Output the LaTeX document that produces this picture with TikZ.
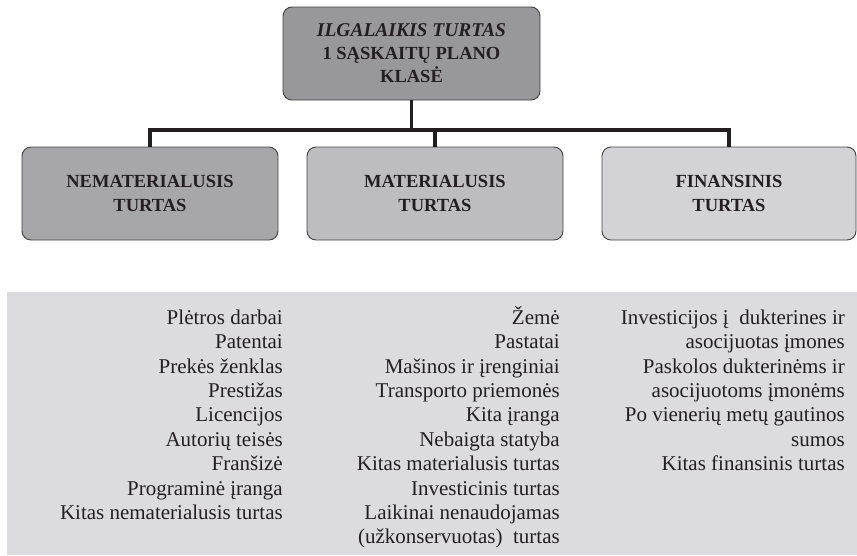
\documentclass[tikz,border=0pt]{standalone}
\usepackage{fontspec}
\setmainfont{Liberation Serif}
\definecolor{ink}{HTML}{231F20}
\definecolor{topfill}{HTML}{98989A}
\definecolor{leftfill}{HTML}{A7A7A9}
\definecolor{midfill}{HTML}{BDBDBF}
\definecolor{rightfill}{HTML}{D3D3D5}
\definecolor{panelfill}{HTML}{DCDCDE}
% fixed-height strut so every list starts at the same baseline
\newcommand{\liststrut}{\rule{0pt}{20pt}}
\begin{document}
\begin{tikzpicture}[x=1pt,y=1pt,
  catbox/.style={draw=ink!85, line width=0.9pt, rounded corners=9pt,
    minimum height=93pt, align=center, text=ink,
    font=\fontsize{18.5}{24}\selectfont\bfseries},
  conn/.style={draw=ink, line width=3.6pt},
  itemcol/.style={anchor=north east, align=right, inner sep=0pt, text=ink,
    font=\fontsize{21}{24.4}\selectfont}]
  \useasboundingbox (0,0) rectangle (857,-555);

  % grey panel behind the lists
  \fill[panelfill] (7,-292) rectangle (857,-555);

  % boxes
  \node[catbox, fill=topfill, minimum width=257pt] (top) at (411.5,-53.5)
    {{\fontsize{19.5}{23.5}\selectfont\itshape ILGALAIKIS TURTAS}\\[-1pt]1 SĄSKAITŲ PLANO\\[-1pt]KLASĖ};
  \node[catbox, fill=leftfill, minimum width=256pt] (nem) at (150,-193.5)
    {NEMATERIALUSIS\\TURTAS};
  \node[catbox, fill=midfill, minimum width=256pt] (mat) at (435,-193.5)
    {MATERIALUSIS\\TURTAS};
  \node[catbox, fill=rightfill, minimum width=254pt] (fin) at (729,-193.5)
    {FINANSINIS\\TURTAS};

  % connectors
  \coordinate (bus) at (0,-130);
  \draw[conn] (top.south) -- (top.south |- bus);
  \draw[conn] (nem.north) -- (nem.north |- bus) -- (fin.north |- bus) -- (fin.north);
  \draw[conn] (mat.north) -- (mat.north |- bus);

  % lists
  \node[itemcol] (nemlist) at (283,-304) {\liststrut Plėtros darbai\\Patentai\\Prekės ženklas\\Prestižas\\Licencijos\\Autorių teisės\\Franšizė\\Programinė įranga\\Kitas nematerialusis turtas};
  \node[itemcol] (matlist) at (560,-304) {\liststrut Žemė\\Pastatai\\Mašinos ir įrenginiai\\Transporto priemonės\\Kita įranga\\Nebaigta statyba\\Kitas materialusis turtas\\Investicinis turtas\\Laikinai nenaudojamas\\(užkonservuotas)\ \ turtas};
  \node[itemcol] (finlist) at (845,-304) {\liststrut Investicijos į\ \ dukterines ir\\asocijuotas įmones\\Paskolos dukterinėms ir\\asocijuotoms įmonėms\\Po vienerių metų gautinos\\sumos\\Kitas finansinis turtas};
\end{tikzpicture}
\end{document}
